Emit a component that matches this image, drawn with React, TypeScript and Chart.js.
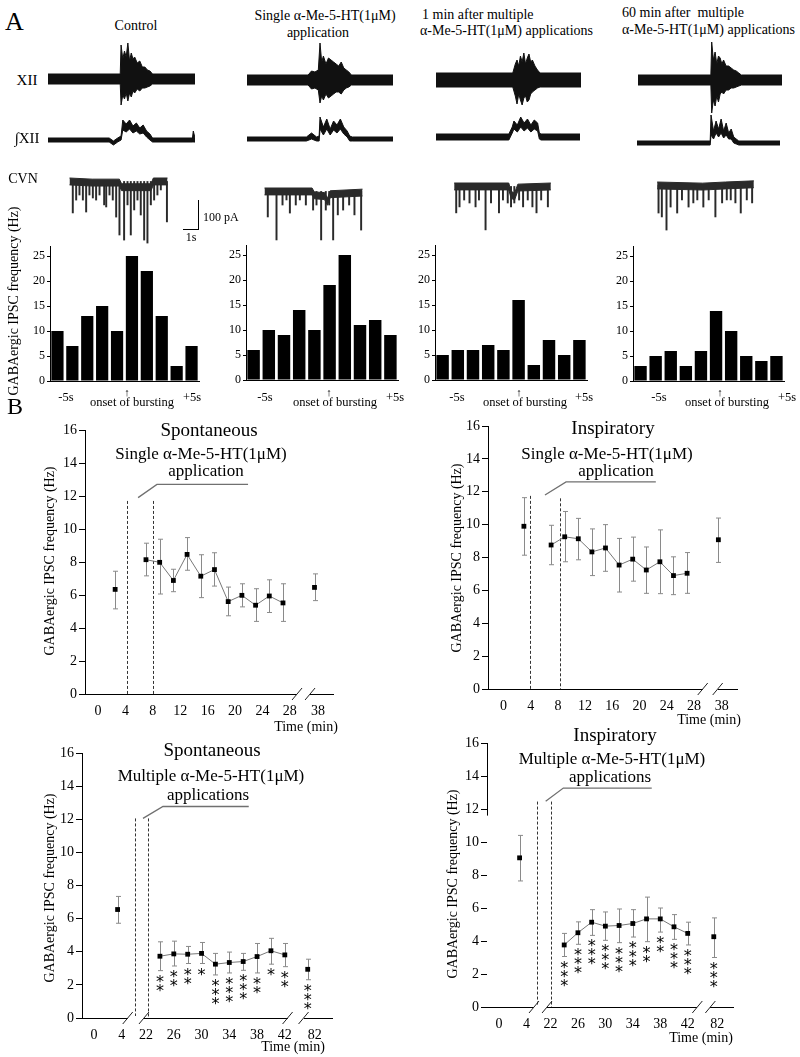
import React, { useEffect, useRef } from 'react';
import { Chart, registerables } from 'chart.js';

Chart.register(...registerables);

const SERIF = '"Liberation Serif", "Times New Roman", Times, serif';
const STAR_FONT = '16px "DejaVu Sans", sans-serif';

// ---------------- Panel A : histograms (IPSC frequency per 1 s bin) ----------------
const histBins = ['-5', '-4', '-3', '-2', '-1', '0', '1', '2', '3', '4'];
const histTicks = [0, 5, 10, 15, 20, 25];
const histControl = [10, 7, 13, 15, 10, 25, 22, 13, 3, 7];
const histSingle = [6, 10, 9, 14, 10, 19, 25, 11, 12, 9];
const hist1min = [5, 6, 6, 7, 6, 16, 3, 8, 5, 8];
const hist60min = [3, 5, 6, 3, 6, 14, 10, 5, 4, 5];

// ---------------- Panel A : traces (time in s, envelopes) ----------------
const xiiCtrlT = [0, 4.25, 4.3, 4.4, 4.5, 4.6, 4.7, 4.8, 4.9, 5.0, 5.1, 5.25, 5.4, 5.55, 5.7, 5.85, 6.0, 6.15, 8.65];
const xiiCtrlHi = [5, 5, 34, 20, 28, 22, 36, 18, 26, 20, 22, 16, 18, 12, 12, 9, 8, 5, 5];
const xiiCtrlLo = [-5, -5, -26, -16, -20, -14, -22, -14, -18, -12, -14, -10, -12, -9, -9, -8, -7, -5, -5];
const xiiSingT = [0, 3.6, 3.8, 4.0, 4.2, 4.3, 4.4, 4.5, 4.65, 4.8, 4.95, 5.1, 5.25, 5.4, 5.55, 5.7, 5.85, 6.0, 6.15, 8.6];
const xiiSingHi = [5, 5, 9, 8, 10, 37, 18, 24, 16, 22, 20, 18, 16, 14, 18, 12, 10, 8, 5, 5];
const xiiSingLo = [-5, -5, -9, -8, -10, -23, -16, -20, -14, -18, -16, -14, -12, -12, -14, -10, -8, -7, -5, -5];
const xiiMin1T = [0, 4.5, 4.65, 4.75, 4.85, 4.95, 5.05, 5.15, 5.25, 5.35, 5.45, 5.55, 5.65, 5.8, 5.95, 6.1, 8.5];
const xiiMin1Hi = [7, 7, 16, 20, 14, 24, 18, 27, 16, 22, 26, 18, 20, 14, 10, 7, 7];
const xiiMin1Lo = [-7, -7, -16, -24, -14, -20, -25, -18, -16, -22, -20, -14, -12, -10, -8, -7, -7];
const xiiMin60T = [0, 4.3, 4.35, 4.45, 4.55, 4.65, 4.75, 4.85, 4.95, 5.05, 5.2, 5.35, 5.5, 5.65, 5.8, 5.95, 6.1, 8.5];
const xiiMin60Hi = [5, 5, 38, 20, 28, 16, 24, 22, 16, 20, 14, 14, 12, 10, 9, 7, 5, 5];
const xiiMin60Lo = [-5, -5, -33, -20, -26, -16, -22, -14, -12, -14, -10, -10, -8, -8, -7, -6, -5, -5];

const intCtrlT = [0, 3.6, 3.85, 4.1, 4.3, 4.4, 4.6, 4.8, 5.0, 5.2, 5.4, 5.6, 5.8, 6.0, 6.15, 8.5, 8.55, 8.65];
const intCtrlHi = [2, 2, -1, 2, 4, 20, 16, 20, 14, 17, 12, 15, 9, 6, 2, 2, 9, 2];
const intCtrlLo = [-2, -2, -5, -2, 0, 10, 8, 11, 7, 9, 6, 7, 3, 0, -2, -2, -2, -2];
const intSingT = [0, 3.5, 3.8, 4.1, 4.25, 4.3, 4.5, 4.7, 4.9, 5.1, 5.3, 5.5, 5.7, 5.9, 6.05, 6.2, 8.6];
const intSingHi = [2, 2, 6, 2, 3, 22, 12, 20, 10, 18, 14, 20, 12, 8, 3, 2, 2];
const intSingLo = [-2, -2, 0, -2, -2, 10, 4, 10, 4, 9, 6, 10, 5, 2, -2, -2, -2];
const intMin1T = [0, 4.3, 4.5, 4.6, 4.8, 5.0, 5.2, 5.4, 5.6, 5.8, 6.0, 6.1, 6.2, 8.5];
const intMin1Hi = [3, 3, 10, 16, 12, 20, 14, 18, 12, 17, 14, 4, 3, 3];
const intMin1Lo = [-3, -3, 4, 8, 5, 10, 6, 9, 5, 8, 6, -2, -3, -3];
const intMin60T = [0, 4.35, 4.4, 4.55, 4.7, 4.85, 5.0, 5.15, 5.3, 5.45, 5.6, 5.75, 5.9, 6.05, 8.5];
const intMin60Hi = [2, 2, 28, 12, 22, 14, 24, 12, 20, 10, 14, 6, 4, 2, 2];
const intMin60Lo = [-2, -2, 8, 4, 10, 6, 10, 5, 8, 4, 4, 0, -1, -2, -2];

// CVN current (pA): baseline band and IPSC deflections
const cvnCtrlT = [0, 2.0, 4.4, 4.6, 6.0, 7.2, 7.4, 8.65];
const cvnCtrlHi = [0, -5, -5, -25, -25, -25, 0, 0];
const cvnCtrlLo = [-30, -35, -35, -55, -55, -55, -30, -30];
const cvnCtrlSpikeT = [0.29, 0.59, 0.88, 1.18, 1.47, 1.76, 2.06, 2.35, 2.65, 3.06, 3.24, 3.53, 3.82, 4.12, 4.41, 4.82, 5.12, 5.41, 5.71, 6.0, 6.29, 6.59, 6.88, 7.18, 7.47, 7.76, 8.06, 8.6];
const cvnCtrlSpikeA = [-152, -96, -74, -96, -148, -74, -87, -96, -74, -117, -126, -74, -96, -170, -248, -270, -117, -248, -139, -96, -161, -270, -283, -117, -96, -74, -52, -191];
const cvnSingT = [0, 4.2, 4.4, 5.3, 5.55, 5.8, 8.65];
const cvnSingHi = [0, 0, -17, -20, -45, -12, -5];
const cvnSingLo = [-30, -30, -47, -50, -75, -42, -35];
const cvnSingSpikeT = [0.29, 1.06, 1.59, 1.94, 2.24, 2.76, 3.12, 3.65, 4.29, 4.59, 5.0, 5.41, 5.71, 6.06, 6.47, 6.94, 7.47, 7.94, 8.53];
const cvnSingSpikeA = [-126, -226, -74, -52, -109, -74, -52, -74, -96, -74, -226, -96, -74, -226, -117, -96, -74, -117, -183];
const cvnMin1T = [0, 4.8, 5.0, 5.3, 5.6, 8.5];
const cvnMin1Hi = [0, 0, -35, -45, -5, 0];
const cvnMin1Lo = [-30, -30, -65, -75, -35, -30];
const cvnMin1SpikeT = [0.18, 0.47, 0.88, 1.35, 1.88, 2.18, 2.76, 3.24, 3.94, 4.29, 4.71, 5.0, 5.29, 5.71, 6.06, 6.47, 6.88, 7.24, 7.65, 8.24];
const cvnMin1SpikeA = [-130, -104, -74, -87, -104, -74, -204, -87, -130, -74, -87, -104, -87, -74, -104, -74, -104, -130, -74, -104];
const cvnMin60T = [0, 4.0, 6.0, 8.5];
const cvnMin60Hi = [0, -5, 0, 5];
const cvnMin60Lo = [-30, -35, -30, -25];
const cvnMin60SpikeT = [0.12, 0.41, 0.82, 1.18, 1.76, 2.18, 2.76, 3.18, 3.53, 4.06, 4.53, 5.12, 5.71, 6.12, 6.47, 6.88, 7.35, 7.88, 8.35];
const cvnMin60SpikeA = [-135, -152, -209, -109, -135, -78, -109, -91, -78, -109, -78, -152, -91, -78, -78, -91, -135, -78, -91];

// ---------------- Panel B : time courses (mean, upper and lower error) ----------------
const singleTickTimes = [0, 4, 8, 12, 16, 20, 24, 28, 38];
const multiTickTimes = [0, 4, 22, 26, 30, 34, 38, 42, 82];
const yTicksB = [0, 2, 4, 6, 8, 10, 12, 14, 16];

const spSingleTime = [2.5, 7, 9, 11, 13, 15, 17, 19, 21, 23, 25, 27, 37.5];
const spSingleMean = [6.34, 8.14, 7.98, 6.88, 8.46, 7.14, 7.54, 5.6, 5.98, 5.38, 5.94, 5.52, 6.46];
const spSingleUpper = [7.44, 9.14, 9.38, 7.56, 9.48, 8.44, 8.56, 6.48, 6.68, 6.38, 6.92, 6.68, 7.28];
const spSingleLower = [5.16, 7.16, 6.06, 6.2, 7.5, 5.84, 6.54, 4.74, 5.28, 4.4, 4.94, 4.4, 5.66];

const inSingleTime = [3, 7, 9, 11, 13, 15, 17, 19, 21, 23, 25, 27, 37.5];
const inSingleMean = [9.9, 8.76, 9.26, 9.14, 8.34, 8.58, 7.54, 7.9, 7.24, 7.74, 6.9, 7.04, 9.08];
const inSingleUpper = [11.64, 9.96, 10.8, 10.38, 9.74, 10.0, 9.16, 9.24, 8.64, 9.68, 8.04, 8.3, 10.4];
const inSingleLower = [8.14, 7.56, 7.74, 7.86, 6.9, 7.16, 5.9, 6.56, 5.82, 5.8, 5.74, 5.82, 7.7];

const spMultiTime = [3.4, 24, 26, 28, 30, 32, 34, 36, 38, 40, 42, 81];
const spMultiMean = [6.55, 3.73, 3.87, 3.85, 3.9, 3.25, 3.35, 3.41, 3.71, 4.06, 3.81, 2.94];
const spMultiUpper = [7.34, 4.6, 4.64, 4.32, 4.56, 3.9, 3.98, 3.9, 4.5, 4.81, 4.5, 3.55];
const spMultiLower = [5.72, 2.86, 3.14, 3.29, 3.29, 2.6, 2.72, 2.88, 2.72, 3.25, 3.1, 2.31];
const spMultiStars = [0, 2, 2, 2, 1, 3, 3, 3, 2, 1, 2, 3];

const inMultiTime = [3, 24, 26, 28, 30, 32, 34, 36, 38, 40, 42, 81.5];
const inMultiMean = [9.04, 3.76, 4.5, 5.14, 4.9, 4.94, 5.06, 5.34, 5.34, 4.86, 4.46, 4.26];
const inMultiUpper = [10.4, 4.46, 5.16, 5.9, 5.76, 5.94, 5.9, 6.66, 6.0, 5.6, 5.14, 5.4];
const inMultiLower = [7.64, 3.06, 3.8, 4.34, 4.04, 3.9, 4.24, 3.96, 4.54, 4.1, 3.76, 3.0];
const inMultiStars = [0, 3, 3, 3, 3, 3, 3, 2, 2, 3, 3, 3];

// broken time axes: map real minutes to axis position
const toUSingle = (t: number) => (t > 30 ? t - 5.9 : t);
const toUMulti = (t: number) => (t > 60 ? t - 50.2 : t > 10 ? t - 14.5 : t);

// ---------------- helpers ----------------
const baseOpts: any = {
  animation: false,
  responsive: false,
  maintainAspectRatio: false,
  devicePixelRatio: 1,
  events: [],
  plugins: { legend: { display: false }, tooltip: { enabled: false } },
};

const zeroPad = (s: any) => {
  s.paddingTop = 0;
  s.paddingBottom = 0;
  s.paddingLeft = 0;
  s.paddingRight = 0;
};
const fixW = (w: number) => (s: any) => {
  s.width = w;
  zeroPad(s);
};
const fixH = (h: number) => (s: any) => {
  s.height = h;
  zeroPad(s);
};

type Box = { left: number; top: number; width: number; height: number };

function ChartCanvas({ box, make }: { box: Box; make: () => any }) {
  const ref = useRef<HTMLCanvasElement | null>(null);
  useEffect(() => {
    if (!ref.current) return;
    const chart = new Chart(ref.current, make());
    return () => chart.destroy();
  }, []);
  return (
    <canvas
      ref={ref}
      width={box.width}
      height={box.height}
      style={{ position: 'absolute', left: box.left, top: box.top, width: box.width, height: box.height }}
    />
  );
}

function traceConfig(tr: any) {
  const { t, hi, lo, sT, sA, yMin, yMax, color, base } = tr;
  const ds: any[] = [
    { type: 'line', data: t.map((x: number, i: number) => ({ x, y: hi[i] })), borderColor: color, backgroundColor: color, borderWidth: 1, pointRadius: 0, tension: 0, fill: false },
    { type: 'line', data: t.map((x: number, i: number) => ({ x, y: lo[i] })), borderColor: color, backgroundColor: color, borderWidth: 1, pointRadius: 0, tension: 0, fill: '-1' },
  ];
  if (sT) {
    ds.push({ type: 'bar', data: sT.map((x: number, i: number) => ({ x, y: [base, sA[i]] })), backgroundColor: color, borderWidth: 0, barThickness: 1.3 });
  }
  return {
    type: 'line',
    data: { datasets: ds },
    options: {
      ...baseOpts,
      layout: { padding: 0 },
      scales: {
        x: { type: 'linear', display: false, min: 0, max: t[t.length - 1] },
        y: { display: false, min: yMin, max: yMax },
      },
    },
  };
}

function histConfig(values: number[], c: Box, a: any) {
  return {
    type: 'bar',
    data: { labels: histBins, datasets: [{ data: values, backgroundColor: '#000', borderWidth: 0, barPercentage: 0.82, categoryPercentage: 1 }] },
    options: {
      ...baseOpts,
      layout: { padding: { left: 0, top: a.top - c.top, right: c.left + c.width - a.right, bottom: 0 } },
      scales: {
        x: { grid: { display: false }, ticks: { display: false }, border: { display: true, color: '#000', width: 1 }, afterFit: fixH(c.top + c.height - a.bottom) },
        y: {
          min: 0,
          max: 27,
          afterBuildTicks: (s: any) => { s.ticks = histTicks.map((v) => ({ value: v })); },
          ticks: { padding: 2, color: '#000', font: { family: SERIF, size: 12 } },
          grid: { drawOnChartArea: false, drawTicks: true, tickLength: 3, color: '#000' },
          border: { display: true, color: '#000', width: 1 },
          afterFit: fixW(a.left - c.left),
        },
      },
    },
  };
}

function bConfig(spec: any) {
  const u = spec.time.map(spec.toU);
  const n = u.length;
  const pts = u.map((x: number, i: number) => ({ x, y: spec.mean[i] }));
  const tickU = spec.tickTimes.map(spec.toU);
  const c = spec.canvas;
  const a = spec.area;
  const pointDs = (data: any[], showLine: boolean) => ({
    type: 'line', data, showLine, borderColor: '#777', borderWidth: 1, pointStyle: 'rect', pointRadius: 3.4,
    pointBackgroundColor: '#000', pointBorderColor: '#000', pointBorderWidth: 0, tension: 0, fill: false,
  });
  const plugin = {
    id: 'bExtras' + spec.key,
    beforeDatasetsDraw(chart: any) {
      const { ctx } = chart;
      const xs = chart.scales.x;
      const ys = chart.scales.y;
      ctx.save();
      ctx.strokeStyle = '#333';
      ctx.lineWidth = 1;
      ctx.setLineDash([3, 2]);
      for (const d of spec.dashes) {
        const x = Math.round(xs.getPixelForValue(d.u)) + 0.5;
        ctx.beginPath();
        ctx.moveTo(x, ys.getPixelForValue(d.top));
        ctx.lineTo(x, ys.getPixelForValue(0));
        ctx.stroke();
      }
      ctx.setLineDash([]);
      ctx.strokeStyle = '#707070';
      ctx.lineWidth = 1.3;
      ctx.beginPath();
      spec.bracket.forEach(([bu, bv]: number[], i: number) => {
        const x = xs.getPixelForValue(bu);
        const y = ys.getPixelForValue(bv);
        if (i === 0) ctx.moveTo(x, y); else ctx.lineTo(x, y);
      });
      ctx.stroke();
      ctx.strokeStyle = '#8a8a8a';
      ctx.lineWidth = 1;
      u.forEach((ux: number, i: number) => {
        const x = Math.round(xs.getPixelForValue(ux)) + 0.5;
        const y1 = ys.getPixelForValue(spec.upper[i]);
        const y2 = ys.getPixelForValue(spec.lower[i]);
        ctx.beginPath();
        ctx.moveTo(x, y1); ctx.lineTo(x, y2);
        ctx.moveTo(x - 2.5, y1); ctx.lineTo(x + 2.5, y1);
        ctx.moveTo(x - 2.5, y2); ctx.lineTo(x + 2.5, y2);
        ctx.stroke();
      });
      ctx.restore();
    },
    afterDatasetsDraw(chart: any) {
      if (!spec.stars) return;
      const { ctx } = chart;
      const xs = chart.scales.x;
      const ys = chart.scales.y;
      ctx.save();
      ctx.fillStyle = '#000';
      ctx.font = STAR_FONT;
      ctx.textAlign = 'center';
      ctx.textBaseline = 'alphabetic';
      const m = ctx.measureText('*');
      const off = (m.actualBoundingBoxAscent - m.actualBoundingBoxDescent) / 2;
      spec.stars.forEach((k: number, i: number) => {
        const x = xs.getPixelForValue(u[i]);
        const y0 = ys.getPixelForValue(spec.lower[i]) + 8;
        for (let j = 0; j < k; j++) ctx.fillText('*', x, y0 + j * 9 + off);
      });
      ctx.restore();
    },
    afterDraw(chart: any) {
      const { ctx, chartArea } = chart;
      const xs = chart.scales.x;
      const ys = chart.scales.y;
      const y0 = ys.getPixelForValue(0);
      ctx.save();
      for (let i = 0; i + 1 < spec.breaks.length; i += 2) {
        const x1 = xs.getPixelForValue(spec.breaks[i]);
        const x2 = xs.getPixelForValue(spec.breaks[i + 1]);
        ctx.clearRect(x1, y0 - 2, x2 - x1, 4);
      }
      ctx.strokeStyle = '#222';
      ctx.lineWidth = 1;
      for (const b of spec.breaks) {
        const x = xs.getPixelForValue(b);
        ctx.beginPath();
        ctx.moveTo(x - 5, y0 + 6);
        ctx.lineTo(x + 5, y0 - 6);
        ctx.stroke();
      }
      if (spec.yAxisFrom != null) {
        const x = Math.round(chartArea.left) + 0.5;
        ctx.strokeStyle = '#000';
        ctx.beginPath();
        ctx.moveTo(x, ys.getPixelForValue(16));
        ctx.lineTo(x, ys.getPixelForValue(spec.yAxisFrom));
        ctx.stroke();
      }
      ctx.restore();
    },
  };
  return {
    type: 'line',
    data: { datasets: [pointDs([pts[0]], false), pointDs(pts.slice(1, n - 1), true), pointDs([pts[n - 1]], false)] },
    options: {
      ...baseOpts,
      layout: { padding: { left: 0, top: a.top - c.top, right: c.left + c.width - a.right, bottom: 0 } },
      scales: {
        x: {
          type: 'linear',
          min: spec.xMin,
          max: spec.xMax,
          afterBuildTicks: (s: any) => { s.ticks = tickU.map((v: number) => ({ value: v })); },
          afterFit: fixH(c.top + c.height - a.bottom),
          ticks: {
            autoSkip: false, maxRotation: 0, minRotation: 0, padding: 9, color: '#000',
            font: { family: SERIF, size: 14 },
            callback: (_v: any, i: number) => String(spec.tickTimes[i]),
          },
          grid: { drawOnChartArea: false, drawTicks: false },
          border: { display: true, color: '#000', width: 1 },
        },
        y: {
          min: 0,
          max: 16,
          afterBuildTicks: (s: any) => { s.ticks = yTicksB.map((v) => ({ value: v })); },
          afterFit: fixW(a.left - c.left),
          ticks: { padding: 2, color: '#000', font: { family: SERIF, size: 14 } },
          grid: { drawOnChartArea: false, drawTicks: true, tickLength: 6, color: '#000' },
          border: { display: spec.yAxisFrom == null, color: '#000', width: 1 },
        },
      },
    },
    plugins: [plugin],
  };
}

// ---------------- layout tables ----------------
const traceCols = [
  {
    xii: [xiiCtrlT, xiiCtrlHi, xiiCtrlLo], int: [intCtrlT, intCtrlHi, intCtrlLo],
    cvn: [cvnCtrlT, cvnCtrlHi, cvnCtrlLo, cvnCtrlSpikeT, cvnCtrlSpikeA],
    g: { xiiL: 48, xiiW: 147, xiiC: 79, intL: 48, intW: 147, intB: 140, cvnL: 45, cvnW: 147, cvnT: 178 },
  },
  {
    xii: [xiiSingT, xiiSingHi, xiiSingLo], int: [intSingT, intSingHi, intSingLo],
    cvn: [cvnSingT, cvnSingHi, cvnSingLo, cvnSingSpikeT, cvnSingSpikeA],
    g: { xiiL: 247, xiiW: 146, xiiC: 80, intL: 247, intW: 146, intB: 139, cvnL: 240, cvnW: 147, cvnT: 188 },
  },
  {
    xii: [xiiMin1T, xiiMin1Hi, xiiMin1Lo], int: [intMin1T, intMin1Hi, intMin1Lo],
    cvn: [cvnMin1T, cvnMin1Hi, cvnMin1Lo, cvnMin1SpikeT, cvnMin1SpikeA],
    g: { xiiL: 436, xiiW: 145, xiiC: 80, intL: 436, intW: 144, intB: 137, cvnL: 430, cvnW: 145, cvnT: 183 },
  },
  {
    xii: [xiiMin60T, xiiMin60Hi, xiiMin60Lo], int: [intMin60T, intMin60Hi, intMin60Lo],
    cvn: [cvnMin60T, cvnMin60Hi, cvnMin60Lo, cvnMin60SpikeT, cvnMin60SpikeA],
    g: { xiiL: 638, xiiW: 144, xiiC: 80, intL: 637, intW: 143, intB: 143, cvnL: 633, cvnW: 145, cvnT: 182 },
  },
];

const histPanels = [
  { values: histControl, canvas: { left: 15, top: 238, width: 190, height: 147 }, area: { left: 50, top: 246, right: 199, bottom: 381 } },
  { values: histSingle, canvas: { left: 211, top: 237, width: 192, height: 147 }, area: { left: 246, top: 245, right: 398, bottom: 380 } },
  { values: hist1min, canvas: { left: 400, top: 237, width: 192, height: 147 }, area: { left: 435, top: 245, right: 587, bottom: 380 } },
  { values: hist60min, canvas: { left: 598, top: 238, width: 192, height: 147 }, area: { left: 633, top: 246, right: 784, bottom: 381 } },
];

const bSpecs = [
  {
    key: 'tl', canvas: { left: 20, top: 415, width: 325, height: 315 }, area: { left: 85, top: 430, right: 333, bottom: 694 },
    xMin: -1.9, xMax: 34.3, time: spSingleTime, mean: spSingleMean, upper: spSingleUpper, lower: spSingleLower, stars: null,
    toU: toUSingle, tickTimes: singleTickTimes,
    dashes: [{ u: 4.2, top: 11.7 }, { u: 8.0, top: 11.7 }], bracket: [[5.85, 11.9], [8.6, 12.7], [21.9, 12.7]],
    breaks: [29.05, 30.95], yAxisFrom: null,
  },
  {
    key: 'tr', canvas: { left: 420, top: 410, width: 330, height: 315 }, area: { left: 488, top: 426, right: 737, bottom: 689 },
    xMin: -2.28, xMax: 34.34, time: inSingleTime, mean: inSingleMean, upper: inSingleUpper, lower: inSingleLower, stars: null,
    toU: toUSingle, tickTimes: singleTickTimes,
    dashes: [{ u: 3.9, top: 11.75 }, { u: 8.3, top: 11.6 }], bracket: [[6.1, 11.8], [9.2, 12.6], [22.4, 12.6]],
    breaks: [29.3, 31.5], yAxisFrom: null,
  },
  {
    key: 'bl', canvas: { left: 20, top: 738, width: 325, height: 316 }, area: { left: 82, top: 753, right: 332, bottom: 1018 },
    xMin: -1.73, xMax: 34.3, time: spMultiTime, mean: spMultiMean, upper: spMultiUpper, lower: spMultiLower, stars: spMultiStars,
    toU: toUMulti, tickTimes: multiTickTimes,
    dashes: [{ u: 5.9, top: 12.05 }, { u: 7.8, top: 12.05 }], bracket: [[7.06, 12.05], [9.94, 12.77], [22.3, 12.77]],
    breaks: [4.86, 7.2, 27.9, 30.2], yAxisFrom: null,
  },
  {
    key: 'br', canvas: { left: 420, top: 728, width: 330, height: 316 }, area: { left: 487, top: 743, right: 733, bottom: 1007 },
    xMin: -1.75, xMax: 34.1, time: inMultiTime, mean: inMultiMean, upper: inMultiUpper, lower: inMultiLower, stars: inMultiStars,
    toU: toUMulti, tickTimes: multiTickTimes,
    dashes: [{ u: 5.54, top: 12.45 }, { u: 7.58, top: 12.45 }], bracket: [[6.8, 12.47], [9.37, 13.27], [22.26, 13.27]],
    breaks: [5.1, 7.0, 28.9, 30.8], yAxisFrom: 11.6,
  },
];

// ---------------- text helper ----------------
function Txt({ x, y, s, a = 'c', rot = false, children }: any) {
  const tx = a === 'l' ? '0' : a === 'r' ? '-100%' : '-50%';
  return (
    <div
      style={{
        position: 'absolute', left: x, top: y, fontFamily: SERIF, fontSize: s, lineHeight: 1, whiteSpace: 'pre', color: '#000',
        transform: `translate(${tx}, -50%)${rot ? ' rotate(-90deg)' : ''}`,
      }}
    >
      {children}
    </div>
  );
}

const YLABEL = 'GABAergic IPSC frequency (Hz)';
const SINGLE = 'Single \u03b1-Me-5-HT(1\u03bcM)';
const MULTI = 'Multiple \u03b1-Me-5-HT(1\u03bcM)';
const AMH = '\u03b1-Me-5-HT(1\u03bcM) applications';

export default function App() {
  const traces: any[] = [];
  traceCols.forEach((col, ci) => {
    const g = col.g;
    const [xt, xh, xl] = col.xii;
    traces.push(
      <ChartCanvas key={'x' + ci} box={{ left: g.xiiL, top: 40, width: g.xiiW, height: 78 }}
        make={() => traceConfig({ t: xt, hi: xh, lo: xl, yMin: g.xiiC - 118, yMax: g.xiiC - 40, color: '#111' })} />
    );
    const [it, ih, il] = col.int;
    traces.push(
      <ChartCanvas key={'i' + ci} box={{ left: g.intL, top: 110, width: g.intW, height: 40 }}
        make={() => traceConfig({ t: it, hi: ih, lo: il, yMin: g.intB - 150, yMax: g.intB - 110, color: '#111' })} />
    );
    const [ct, ch, cl, st, sa] = col.cvn;
    traces.push(
      <ChartCanvas key={'c' + ci} box={{ left: g.cvnL, top: g.cvnT - 10, width: g.cvnW, height: 80 }}
        make={() => traceConfig({ t: ct, hi: ch, lo: cl, sT: st, sA: sa, base: -15, yMin: -304.5, yMax: 43.5, color: '#2a2a2a' })} />
    );
  });

  const histXLabels = [
    [66, 127, 132, 192],
    [265, 329, 335, 395],
    [457, 519, 525, 584],
    [659, 720, 727, 787],
  ];

  return (
    <div style={{ position: 'absolute', left: 0, top: 0, width: 800, height: 1057, background: '#fff', overflow: 'hidden' }}>
      {traces}
      {histPanels.map((h, i) => (
        <ChartCanvas key={'h' + i} box={h.canvas} make={() => histConfig(h.values, h.canvas, h.area)} />
      ))}
      {bSpecs.map((s) => (
        <ChartCanvas key={s.key} box={s.canvas} make={() => bConfig(s)} />
      ))}

      {/* scale bars */}
      <div style={{ position: 'absolute', left: 198, top: 200, width: 1, height: 30, background: '#000' }} />
      <div style={{ position: 'absolute', left: 183, top: 229, width: 16, height: 1, background: '#000' }} />
      <Txt x={203} y={217} s={12} a="l">100 pA</Txt>
      <Txt x={191} y={237} s={12}>1s</Txt>

      {/* Panel A text */}
      <Txt x={5} y={22} s={26} a="l">A</Txt>
      <Txt x={136} y={26} s={14}>Control</Txt>
      <Txt x={325} y={16} s={14}>{SINGLE}</Txt>
      <Txt x={318} y={33} s={14}>application</Txt>
      <Txt x={422} y={15} s={14} a="l">1 min after multiple</Txt>
      <Txt x={420} y={31} s={14} a="l">{AMH}</Txt>
      <Txt x={622} y={13} s={14} a="l">60 min after  multiple</Txt>
      <Txt x={622} y={30} s={14} a="l">{AMH}</Txt>
      <Txt x={27} y={80} s={15}>XII</Txt>
      <Txt x={27} y={138} s={15}>{'\u222bXII'}</Txt>
      <Txt x={23} y={179} s={14}>CVN</Txt>
      <Txt x={14} y={301} s={14} rot>{YLABEL}</Txt>
      {histXLabels.map((p, i) => (
        <React.Fragment key={'hl' + i}>
          <Txt x={p[0]} y={397} s={12.5}>-5s</Txt>
          <Txt x={p[1]} y={392} s={11}>{'\u2191'}</Txt>
          <Txt x={p[2]} y={402} s={12.5}>onset of bursting</Txt>
          <Txt x={p[3]} y={397} s={12.5}>+5s</Txt>
        </React.Fragment>
      ))}

      {/* Panel B text */}
      <Txt x={7} y={406} s={24} a="l">B</Txt>
      <Txt x={209} y={429} s={19}>Spontaneous</Txt>
      <Txt x={201} y={453} s={17}>{SINGLE}</Txt>
      <Txt x={206} y={470} s={17}>application</Txt>
      <Txt x={613} y={427} s={19}>Inspiratory</Txt>
      <Txt x={607} y={453} s={17}>{SINGLE}</Txt>
      <Txt x={616} y={470} s={17}>application</Txt>
      <Txt x={212} y={749} s={19}>Spontaneous</Txt>
      <Txt x={211} y={775} s={17}>{MULTI}</Txt>
      <Txt x={208} y={794} s={17}>applications</Txt>
      <Txt x={615} y={734} s={19}>Inspiratory</Txt>
      <Txt x={612} y={758} s={17}>{MULTI}</Txt>
      <Txt x={610} y={776} s={17}>applications</Txt>
      <Txt x={50} y={561} s={14} rot>{YLABEL}</Txt>
      <Txt x={457} y={558} s={14} rot>{YLABEL}</Txt>
      <Txt x={50} y={888} s={14} rot>{YLABEL}</Txt>
      <Txt x={453} y={884} s={14} rot>{YLABEL}</Txt>
      <Txt x={306} y={727} s={14}>Time (min)</Txt>
      <Txt x={709} y={720} s={14}>Time (min)</Txt>
      <Txt x={293} y={1047} s={14}>Time (min)</Txt>
      <Txt x={701} y={1038} s={14}>Time (min)</Txt>
    </div>
  );
}
